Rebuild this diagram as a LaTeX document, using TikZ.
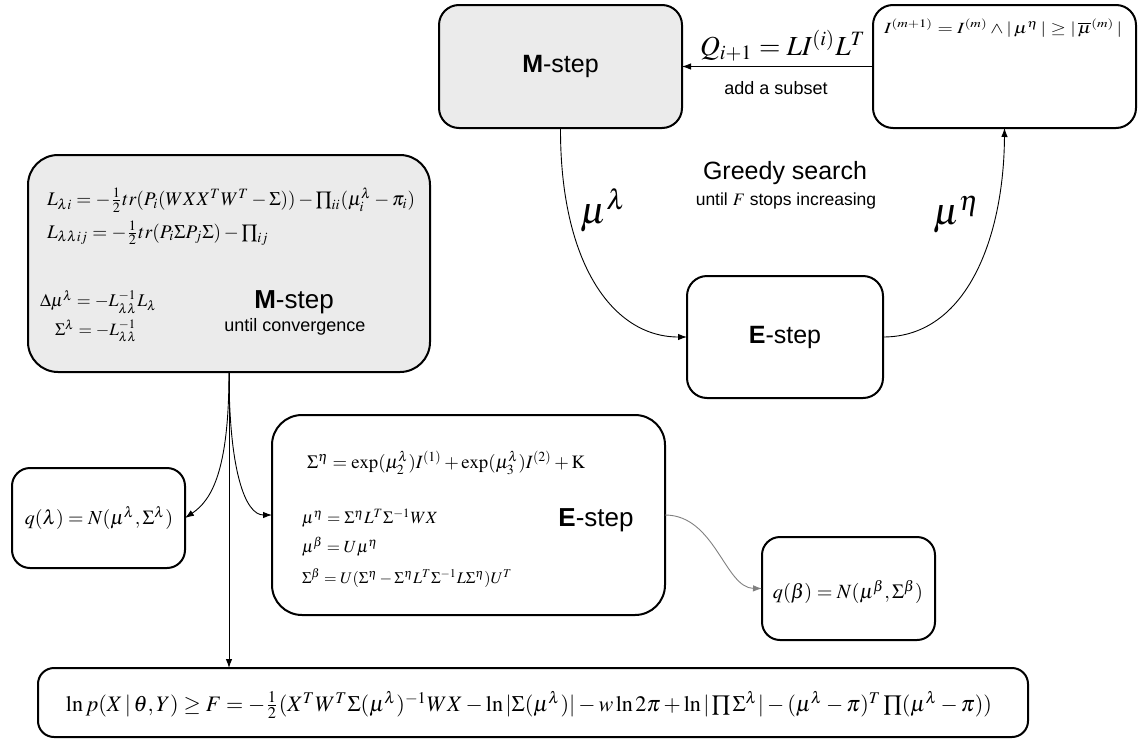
\documentclass[tikz,border=0pt]{standalone}
\usepackage{amsmath}
\usepackage{mathptmx}
\usepackage[no-math]{fontspec}
\setmainfont{Liberation Sans}
\usetikzlibrary{arrows.meta}
\newcommand{\fitw}[2]{\resizebox{#1pt}{!}{$\textstyle #2$}}
\newcommand{\fsz}[1]{\fontsize{#1}{#1}\selectfont}
\newlength{\eqwa}
\newcommand{\eqLa}{L_{\lambda i} = -\tfrac{1}{2}tr(P_i(WXX^{T}W^{T}-\Sigma)) - \prod\nolimits_{ii}(\mu_i^{\lambda}-\pi_i)}
\newcommand{\eqLb}{L_{\lambda\lambda ij} = -\tfrac{1}{2}tr(P_i\Sigma P_j\Sigma) - \prod\nolimits_{ij}}
\begin{document}
\begin{tikzpicture}[x=1pt,y=-1pt,
  box/.style={draw, line width=2pt, rounded corners=20pt, inner sep=0pt, outer sep=0pt},
  gbox/.style={box, fill=black!8},
  conn/.style={line width=0.9pt, -{Latex[length=9pt,width=6.5pt]}},
  txt/.style={inner sep=0pt, outer sep=0pt},
  eq/.style={inner sep=0pt, outer sep=0pt, anchor=west},
]
\settowidth{\eqwa}{$\textstyle\eqLa$}
\pgfmathsetmacro{\sfac}{368/\eqwa}
\useasboundingbox (0,0) rectangle (1142,739);
% top row
\node[gbox, minimum width=243pt, minimum height=123pt] (mtop) at (560.5,66.5) {\fsz{25}\textbf{M}-step};
\node[box, minimum width=263pt, minimum height=123pt] (itop) at (1004.5,66.5) {};
\node[txt] (ieq) at (1003,28) {\resizebox{238pt}{15pt}{$\textstyle I^{(m+1)} = I^{(m)} \wedge |\,\mu^{\eta}\,| \geq |\,\overline{\mu}^{(m)}\,|$}};
\draw[conn] (itop.west) -- (mtop.east);
\node[txt] (qlab) at (783,46) {\fitw{166}{Q_{i+1} = LI^{(i)}L^{T}}};
\node[txt] (add) at (776,88) {\fsz{18}add a subset};
% greedy loop
\node[txt] (greedy) at (785,173) {\fsz{25}Greedy search};
\node[txt] (until) at (786,201) {\fsz{17.5}until $F$ stops increasing};
\node[box, minimum width=196pt, minimum height=122pt] (estep) at (785,337) {\fsz{25}\textbf{E}-step};
\node[txt] (mul) at (603,210) {\fsz{38}$\mu^{\lambda}$};
\node[txt] (mue) at (956,215) {\fsz{38}$\mu^{\eta}$};
\draw[conn] (mtop.south) .. controls (560,262) and (612,337) .. (estep.west);
\draw[conn] (estep.east) .. controls (968,337) and (1004,235) .. (itop.south);
% big M box
\node[gbox, rounded corners=30pt, minimum width=402pt, minimum height=217pt] (bigM) at (229,263.5) {};
\node[eq] (e1) at (47,200) {\scalebox{\sfac}{$\textstyle\eqLa$}};
\node[eq] (e2) at (47,233) {\scalebox{\sfac}{$\textstyle\eqLb$}};
\node[eq] (e3) at (40,302) {\fitw{117}{\Delta\mu^{\lambda} = -L^{-1}_{\lambda\lambda}L_{\lambda}}};
\node[eq] (e4) at (55,331) {\fitw{82}{\Sigma^{\lambda} = -L^{-1}_{\lambda\lambda}}};
\node[txt] (mlab) at (294,302) {\fsz{26}\textbf{M}-step};
\node[txt] (mconv) at (295,327) {\fsz{18}until convergence};
% q(lambda)
\node[box, rounded corners=18pt, minimum width=173pt, minimum height=100pt] (qlam) at (98.5,518) {};
\node[txt] (qlamt) at (99,518) {\fitw{148}{q(\lambda) = N(\mu^{\lambda}, \Sigma^{\lambda})}};
% big E box
\node[box, rounded corners=30pt, minimum width=393pt, minimum height=200pt] (bigE) at (468.5,515) {};
\node[eq] (f1) at (307,463) {\fitw{278}{\Sigma^{\eta} = \exp(\mu_2^{\lambda})I^{(1)} + \exp(\mu_3^{\lambda})I^{(2)} + \mathrm{K}}};
\node[eq] (f2) at (302,518) {\fitw{136}{\mu^{\eta} = \Sigma^{\eta}L^{T}\Sigma^{-1}WX}};
\node[eq] (f3) at (302,547) {\fitw{76}{\mu^{\beta} = U\mu^{\eta}}};
\node[eq] (f4) at (302,578) {\fitw{210}{\Sigma^{\beta} = U(\Sigma^{\eta} - \Sigma^{\eta}L^{T}\Sigma^{-1}L\Sigma^{\eta})U^{T}}};
\node[txt] (elab) at (596,520) {\fsz{26}\textbf{E}-step};
% q(beta)
\node[box, rounded corners=18pt, minimum width=173pt, minimum height=103pt] (qbeta) at (848.5,588.5) {};
\node[txt] (qbt) at (848,592) {\fitw{150}{q(\beta) = N(\mu^{\beta}, \Sigma^{\beta})}};
% bottom
\node[box, rounded corners=16pt, minimum width=990pt, minimum height=69pt] (bot) at (533,702.5) {};
\node[txt] (bott) at (529,705) {\fitw{926}{\ln p(X\,|\,\theta,Y) \geq F = -\tfrac{1}{2}(X^{T}W^{T}\Sigma(\mu^{\lambda})^{-1}WX - \ln|\Sigma(\mu^{\lambda})| - w\ln 2\pi + \ln|\prod\Sigma^{\lambda}| - (\mu^{\lambda}-\pi)^{T}\prod(\mu^{\lambda}-\pi))}};
% connectors from big M box
\draw[conn] (bigM.south) -- (bigM.south |- bot.north);
\draw[conn] (bigM.south) .. controls (229,470) and (212,500) .. (qlam.east);
\draw[conn] (bigM.south) .. controls (229,470) and (245,515) .. (bigE.west);
\draw[conn, draw=black!50] (bigE.east) .. controls (715,515) and (725,588) .. (qbeta.west);
\end{tikzpicture}
\end{document}
